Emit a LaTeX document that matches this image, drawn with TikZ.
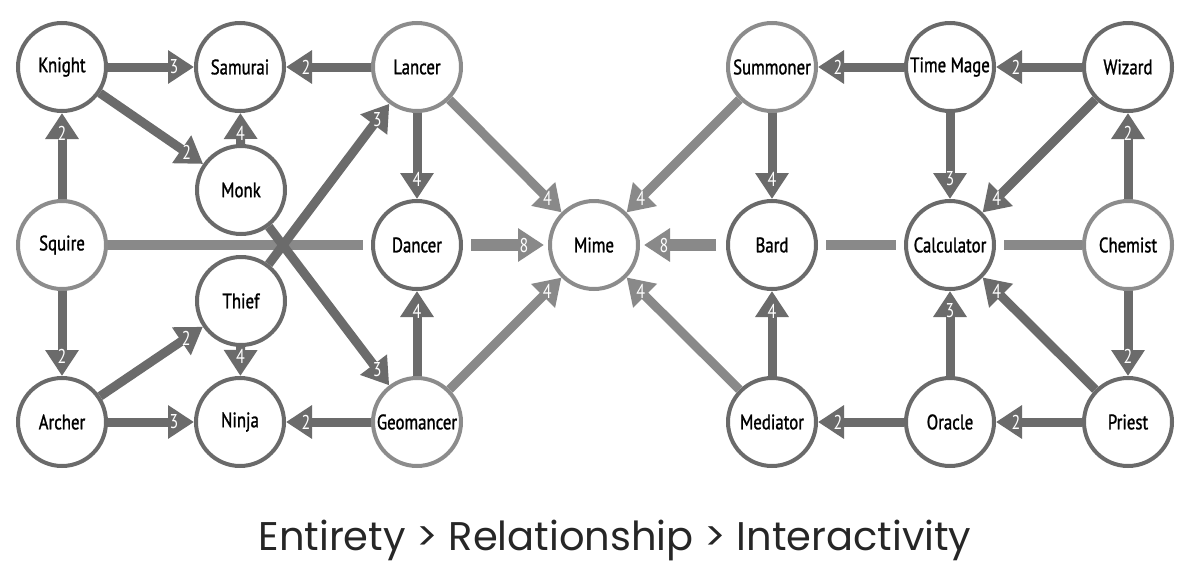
\documentclass[tikz,border=0pt]{standalone}
\usepackage{fontspec}
\usepackage{tikz}
\usetikzlibrary{arrows.meta,calc}
\newfontfamily\jobfont[FakeStretch=0.8, FakeBold=1.2]{PT Sans}
\newfontfamily\numfont[FakeStretch=0.8]{PT Sans}
\newfontfamily\capfont{Poppins}
\definecolor{jobdark}{HTML}{6A6A6A}
\definecolor{joblight}{HTML}{8C8C8C}
\definecolor{arrdark}{HTML}{6B6B6B}
\definecolor{arrlight}{HTML}{898989}

\begin{document}
\begin{tikzpicture}[
  x=0.5pt, y=-0.5pt,
  job/.style={circle, draw=jobdark, line width=2pt, fill=white,
              minimum size=44pt, inner sep=0pt, text=black,
              font=\jobfont\fontsize{10.5}{12}\selectfont},
  jobl/.style={job, draw=joblight},
  arr/.style={-{Triangle[length=13pt, width=16pt]}, arrdark, line width=4.5pt},
  arrl/.style={arr, arrlight},
  linel/.style={arrlight, line width=5pt},
  num/.style={text=white, inner sep=0pt,
              font=\numfont\fontsize{10}{10}\selectfont},
]
\def\ad#1#2#3{\draw[arr] (#1) -- (#2);
  \node[num] (#1-#2) at ($(#2)!33pt!(#1)$) {#3};}
\def\al#1#2#3{\draw[arrl] (#1) -- (#2);
  \node[num] (#1-#2) at ($(#2)!33pt!(#1)$) {#3};}

\useasboundingbox (0,0) rectangle (1200,584);

% ---------------- left cluster -------------------------------------
\node[job]  (knight)    at (62,67)   {Knight};
\node[job]  (samurai)   at (240,67)  {Samurai};
\node[jobl] (lancer)    at (417,67)  {Lancer};
\node[job]  (monk)      at (241,190) {Monk};
\node[jobl] (squire)    at (62,245)  {Squire};
\node[job]  (thief)     at (241,301) {Thief};
\node[job]  (dancer)    at (417,245) {Dancer};
\node[job]  (archer)    at (62,422)  {Archer};
\node[job]  (ninja)     at (240,422) {Ninja};
\node[jobl] (geomancer) at (417,422) {Geomancer};

% ---------------- centre -------------------------------------------
\node[jobl] (mime)      at (594,245) {Mime};

% ---------------- right cluster ------------------------------------
\node[jobl] (summoner)   at (772,67)   {Summoner};
\node[job]  (timemage)   at (950,67)   {Time Mage};
\node[job]  (wizard)     at (1128,67)  {Wizard};
\node[job]  (bard)       at (772,245)  {Bard};
\node[job]  (calculator) at (950,245)  {Calculator};
\node[jobl] (chemist)    at (1128,245) {Chemist};
\node[job]  (mediator)   at (772,422)  {Mediator};
\node[job]  (oracle)     at (950,422)  {Oracle};
\node[job]  (priest)     at (1128,422) {Priest};

% ---------------- middle row ---------------------------------------
\draw[linel, shorten >=4pt] (squire) -- (dancer);
\draw[arrl, line width=6pt, shorten <=4pt, shorten >=2pt] (dancer) -- (mime);
\node[num] (dancer-mime) at ($(mime)!35pt!(dancer)$) {8};
\draw[arrl, line width=6pt, shorten <=5pt, shorten >=2pt] (bard) -- (mime);
\node[num] (bard-mime) at ($(mime)!35pt!(bard)$) {8};
\draw[linel, shorten <=4pt, shorten >=4pt] (bard) -- (calculator);
\draw[linel, shorten <=4pt] (calculator) -- (chemist);

% ---------------- left links ---------------------------------------
\ad{knight}{samurai}{3}
\ad{lancer}{samurai}{2}
\ad{squire}{knight}{2}
\ad{knight}{monk}{2}
\ad{monk}{samurai}{4}
\ad{thief}{lancer}{3}
\ad{monk}{geomancer}{3}
\ad{lancer}{dancer}{4}
\ad{squire}{archer}{2}
\ad{archer}{thief}{2}
\ad{thief}{ninja}{4}
\ad{archer}{ninja}{3}
\ad{geomancer}{ninja}{2}
\ad{geomancer}{dancer}{4}
\al{lancer}{mime}{4}
\al{geomancer}{mime}{4}

% ---------------- right links --------------------------------------
\al{summoner}{mime}{4}
\al{mediator}{mime}{4}
\ad{summoner}{bard}{4}
\ad{timemage}{summoner}{2}
\ad{wizard}{timemage}{2}
\ad{timemage}{calculator}{3}
\ad{wizard}{calculator}{4}
\ad{chemist}{wizard}{2}
\ad{mediator}{bard}{4}
\ad{oracle}{mediator}{2}
\ad{oracle}{calculator}{3}
\ad{priest}{oracle}{2}
\ad{priest}{calculator}{4}
\ad{chemist}{priest}{2}

% ---------------- caption ------------------------------------------
\node[font=\capfont\fontsize{20}{24}\selectfont, text=black!85] (caption)
  at (615,540) {Entirety > Relationship > Interactivity};

\end{tikzpicture}
\end{document}
